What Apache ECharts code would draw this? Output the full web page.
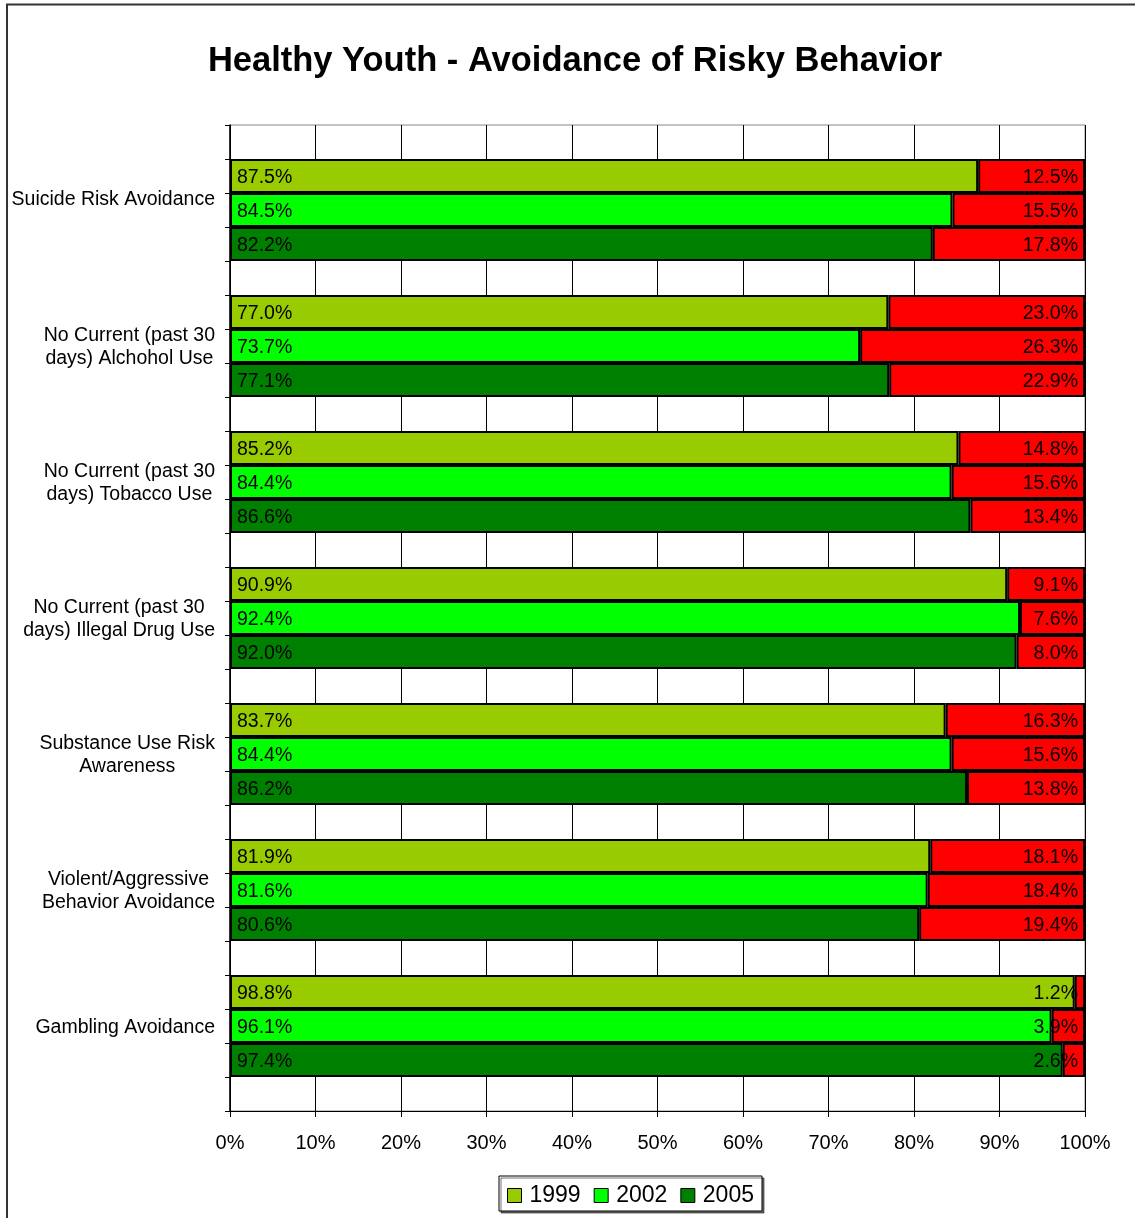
<!DOCTYPE html>
<html><head><meta charset="utf-8">
<script src="https://cdn.jsdelivr.net/npm/echarts@6/dist/echarts.min.js"></script>
<style>html,body{margin:0;padding:0;background:#fff}#c{width:1135px;height:1218px}</style>
</head><body><div id="c"></div>
<script>
// ---- data ----
const title = 'Healthy Youth - Avoidance of Risky Behavior';
const categories = [
  'Suicide Risk Avoidance\n',
  'No Current (past 30\ndays) Alchohol Use',
  'No Current (past 30\ndays) Tobacco Use',
  'No Current (past 30\ndays) Illegal Drug Use',
  'Substance Use Risk\nAwareness',
  'Violent/Aggressive\nBehavior Avoidance',
  'Gambling Avoidance'
];
const years = ['1999', '2002', '2005'];
const avoid1999 = [87.5, 77.0, 85.2, 90.9, 83.7, 81.9, 98.8];
const avoid2002 = [84.5, 73.7, 84.4, 92.4, 84.4, 81.6, 96.1];
const avoid2005 = [82.2, 77.1, 86.6, 92.0, 86.2, 80.6, 97.4];
const risk1999 = [12.5, 23.0, 14.8, 9.1, 16.3, 18.1, 1.2];
const risk2002 = [15.5, 26.3, 15.6, 7.6, 15.6, 18.4, 3.9];
const risk2005 = [17.8, 22.9, 13.4, 8.0, 13.8, 19.4, 2.6];
const xTicks = [0, 10, 20, 30, 40, 50, 60, 70, 80, 90, 100];

// ---- build rows (blank row, 3 year rows per category, trailing blank) ----
const avoidByYear = [avoid1999, avoid2002, avoid2005];
const riskByYear = [risk1999, risk2002, risk2005];
const yearColors = ['#99CC00', '#00FF00', '#008000'];
const rows = [];
const rowLabel = [];
const rowInfo = [];
categories.forEach((c, k) => {
  rows.push('b' + k); rowLabel.push(''); rowInfo.push(null);
  years.forEach((y, j) => {
    rows.push('r' + k + '_' + j);
    rowLabel.push(j === 1 ? c : '');
    rowInfo.push({k: k, j: j});
  });
});
rows.push('end'); rowLabel.push(''); rowInfo.push(null);

const FONT = '"Liberation Sans", Arial, sans-serif';
const fmt = p => (typeof p.value === 'number') ? p.value.toFixed(1) + '%' : '';

const series = years.map((y, j) => ({
  name: y, type: 'bar', stack: 'all', barCategoryGap: '0%',
  itemStyle: {color: yearColors[j], borderColor: '#000', borderWidth: 2},
  label: {show: true, position: 'insideLeft', distance: 7, offset: [0, 2], color: '#000',
          fontFamily: FONT, fontSize: 19.5, formatter: fmt},
  emphasis: {disabled: true},
  data: rowInfo.map(r => (r && r.j === j) ? avoidByYear[j][r.k] : '-')
}));
series.push({
  name: 'Risk', type: 'bar', stack: 'all', barCategoryGap: '0%',
  itemStyle: {color: '#FF0000', borderColor: '#000', borderWidth: 2},
  label: {show: true, position: 'insideRight', distance: 7, offset: [0, 2], color: '#000',
          fontFamily: FONT, fontSize: 19.5, formatter: fmt},
  emphasis: {disabled: true},
  data: rowInfo.map(r => r ? riskByYear[r.j][r.k] : '-')
});

const chart = echarts.init(document.getElementById('c'), null, {renderer: 'canvas'});
chart.setOption({
  animation: false,
  backgroundColor: '#fff',
  textStyle: {fontFamily: FONT},
  title: {
    text: title, left: 570, textAlign: 'center', top: 39,
    textStyle: {fontFamily: FONT, fontSize: 34.5, fontWeight: 'bold', color: '#000'}
  },
  graphic: [{
    type: 'rect', shape: {x: 7, y: 4.5, width: 1200, height: 1300},
    style: {fill: null, stroke: '#333', lineWidth: 2}, silent: true, z: -1
  }],
  legend: {
    data: years, left: 499, top: 1176, orient: 'horizontal',
    padding: [8, 8, 4, 8], itemGap: 13, itemWidth: 14, itemHeight: 14,
    icon: 'rect', borderColor: '#000', borderWidth: 1, backgroundColor: '#fff',
    shadowColor: 'rgba(0,0,0,0.55)', shadowOffsetX: 2, shadowOffsetY: 2, shadowBlur: 0,
    itemStyle: {borderColor: '#000', borderWidth: 1},
    textStyle: {fontFamily: FONT, fontSize: 23, color: '#000', padding: [0, 0, 0, 3]},
    selectedMode: false
  },
  grid: {left: 230, right: 50, top: 125, bottom: 107, show: true,
         borderColor: '#888', borderWidth: 1, containLabel: false},
  xAxis: {
    type: 'value', min: xTicks[0], max: xTicks[xTicks.length - 1], interval: 10,
    axisLine: {show: true, lineStyle: {color: '#000', width: 1}},
    axisTick: {show: true, length: 6, lineStyle: {color: '#000'}},
    axisLabel: {formatter: v => v + '%', fontFamily: FONT, fontSize: 20, color: '#000', margin: 22},
    splitLine: {show: true, lineStyle: {color: '#000', width: 1}}
  },
  yAxis: {
    type: 'category', inverse: true, data: rows,
    axisLine: {show: true, lineStyle: {color: '#000', width: 1.5}},
    axisTick: {show: true, interval: 0, length: 5, lineStyle: {color: '#000'}},
    axisLabel: {
      interval: 0, margin: 15, align: 'right',
      formatter: (v, i) => {
        const t = rowLabel[i];
        if (!t) return '';
        return t.split('\n').map(l => '{c|' + (l || ' ') + '}').join('\n');
      },
      rich: {c: {align: 'center', fontFamily: FONT, fontSize: 19.5, lineHeight: 23, color: '#000', padding: [3, 0, 0, 0]}}
    },
    splitLine: {show: false}
  },
  series: series
});
</script></body></html>
